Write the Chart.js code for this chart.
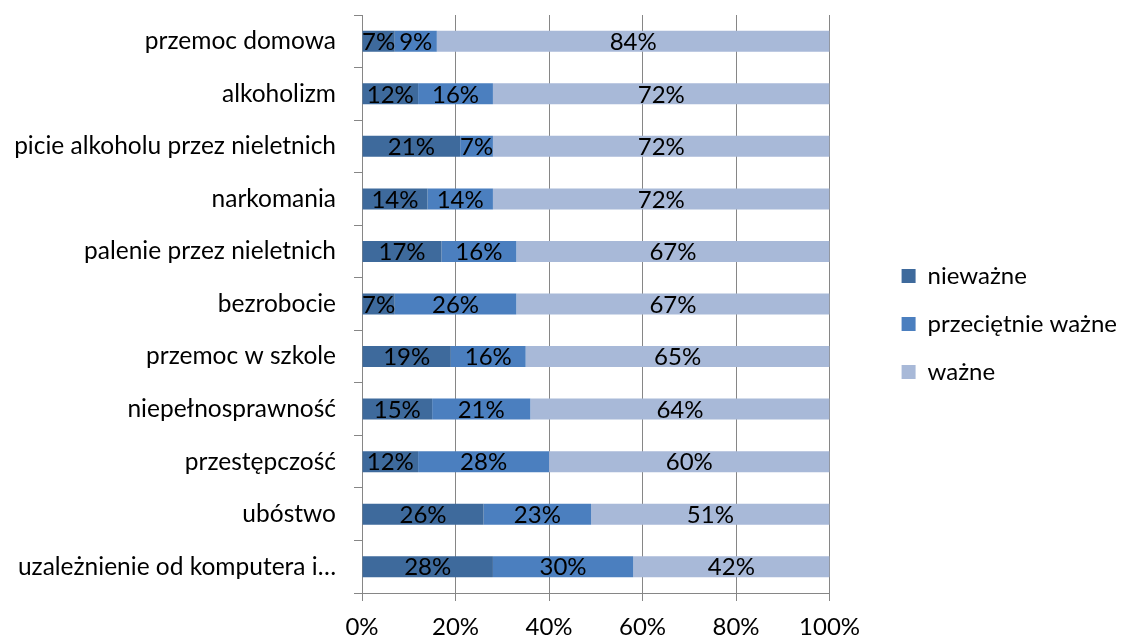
<!DOCTYPE html>
<html>
<head>
<meta charset="utf-8">
<script src="https://cdn.jsdelivr.net/npm/chart.js@4/dist/chart.umd.min.js"></script>
<style>
  html, body { margin: 0; padding: 0; background: #fff; }
  #wrap { width: 1121px; height: 637px; position: relative; }
</style>
</head>
<body>
<div id="wrap"><canvas id="chart"></canvas></div>
<script>
// Data (percent of answers)
const categories = [
    'przemoc domowa',
    'alkoholizm',
    'picie alkoholu przez nieletnich',
    'narkomania',
    'palenie przez nieletnich',
    'bezrobocie',
    'przemoc w szkole',
    'niepełnosprawność',
    'przestępczość',
    'ubóstwo',
    'uzależnienie od komputera i…'
];
const seriesNames = ['nieważne', 'przeciętnie ważne', 'ważne'];
const niewazne = [7, 12, 21, 14, 17, 7, 19, 15, 12, 26, 28];
const przecietnie = [9, 16, 7, 14, 16, 26, 16, 21, 28, 23, 30];
const wazne = [84, 72, 72, 72, 67, 67, 65, 64, 60, 51, 42];
const xTicks = ['0%', '20%', '40%', '60%', '80%', '100%'];

const FONT = "Lato, 'Open Sans', sans-serif";
const GRID = '#868686';

// writes the value in the middle of each bar segment
const segmentLabels = {
    id: 'segmentLabels',
    afterDatasetsDraw(chart) {
        const ctx = chart.ctx;
        ctx.save();
        ctx.font = '24px ' + FONT;
        ctx.fillStyle = '#000';
        ctx.textAlign = 'center';
        ctx.textBaseline = 'middle';
        chart.data.datasets.forEach((ds, i) => {
            chart.getDatasetMeta(i).data.forEach((bar, j) => {
                const p = bar.getProps(['x', 'y', 'base'], true);
                ctx.fillText(ds.data[j] + '%', (p.x + p.base) / 2, p.y + 1);
            });
        });
        ctx.restore();
    }
};

// move the legend a bit further away from the plot, like Excel does
const legendGap = {
    id: 'legendGap',
    afterLayout(chart) {
        if (chart.legend) {
            chart.legend.left += 48;
            chart.legend.right += 48;
            chart.legend.top -= 10;
            chart.legend.bottom -= 10;
        }
    }
};

new Chart(document.getElementById('chart'), {
    type: 'bar',
    data: {
        labels: categories,
        datasets: [
            { label: seriesNames[0], data: niewazne, backgroundColor: '#3e6a9c' },
            { label: seriesNames[1], data: przecietnie, backgroundColor: '#4b7fbf' },
            { label: seriesNames[2], data: wazne, backgroundColor: '#a8b9d8' }
        ]
    },
    options: {
        indexAxis: 'y',
        responsive: true,
        maintainAspectRatio: false,
        animation: false,
        barPercentage: 0.4,
        categoryPercentage: 1,
        layout: { padding: { top: 15, left: 0, right: 42, bottom: -16 } },
        scales: {
            x: {
                stacked: true,
                min: 0,
                max: 100,
                ticks: {
                    stepSize: 20,
                    color: '#000',
                    padding: 14,
                    font: { family: FONT, size: 24, lineHeight: 1 },
                    callback: (v, i) => xTicks[i]
                },
                grid: { color: GRID, tickLength: 8, tickColor: GRID },
                border: { color: GRID }
            },
            y: {
                stacked: true,
                afterFit: (scale) => {
                    scale.width = 362;
                    scale.paddingTop = 0;
                    scale.paddingBottom = 0;
                },
                ticks: {
                    color: '#000',
                    padding: 18,
                    font: { family: FONT, size: 24.5 }
                },
                grid: { drawOnChartArea: false, tickLength: 8, color: GRID },
                border: { color: GRID }
            }
        },
        plugins: {
            legend: {
                position: 'right',
                labels: {
                    color: '#000',
                    boxWidth: 14,
                    boxHeight: 14,
                    padding: 24,
                    font: { family: FONT, size: 24 }
                }
            },
            tooltip: { enabled: false }
        }
    },
    plugins: [segmentLabels, legendGap]
});
</script>
</body>
</html>
